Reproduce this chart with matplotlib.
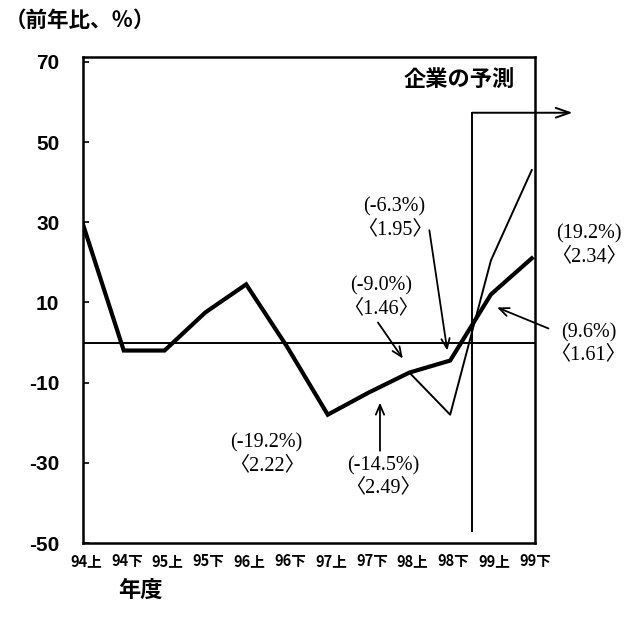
import matplotlib
matplotlib.use("Agg")
import matplotlib.pyplot as plt
import numpy as np

plt.rcParams['font.family'] = ['Noto Sans CJK JP', 'DejaVu Sans']

periods = ["94上", "94下", "95上", "95下", "96上", "96下",
           "97上", "97下", "98上", "98下", "99上", "99下"]
actual = [29.5, -2.0, -2.0, 7.5, 14.5, -1.0, -18.0, -12.5, -7.5, -4.5, 12.0, 21.0]
# thin line: branch starting at 98上
branch_idx = [8, 9, 10, 11]
branch = [-7.5, -18.0, 20.5, 43.0]
yticks = [-50, -30, -10, 10, 30, 50, 70]

notes = [
    ("(-19.2%)\n〈2.22〉", (4.50, -27.8), None),
    ("(-14.5%)\n〈2.49〉", (7.35, -33.5), ((7.28, -27.0), (7.28, -15.0))),
    ("(-9.0%)\n〈1.46〉", (7.30, 11.3), ((7.23, 5.0), (7.84, -4.0))),
    ("(-6.3%)\n〈1.95〉", (7.64, 31.0), ((8.49, 28.0), (8.93, -2.0))),
    ("(19.2%)\n〈2.34〉", (12.39, 24.3), None),
    ("(9.6%)\n〈1.61〉", (12.39, -0.3), ((11.41, 3.5), (10.15, 8.75))),
]

fig = plt.figure(figsize=(6.38, 6.21), dpi=100)
ax = fig.add_axes([0.130, 0.1256, 0.7086, 0.7826])

x = np.arange(len(periods))
ax.plot(x, actual, color='black', lw=3.0, solid_joinstyle='miter', zorder=3)
ax.plot(branch_idx, branch, color='black', lw=1.4, zorder=2)
ax.axhline(0, color='black', lw=1.4, zorder=1)

ax.set_xlim(0, 11)
ax.set_ylim(-50, 71.2)
ax.set_yticks(yticks)
ax.set_yticklabels([str(v) for v in yticks], fontsize=15, fontweight='bold',
                   family=['Liberation Sans', 'DejaVu Sans'])
ax.tick_params(axis='y', direction='in', length=4, width=1.2, pad=17)
ax.set_xticks(x + 0.08)
ax.set_xticklabels(periods, fontsize=10.5, fontweight='bold')
ax.tick_params(axis='x', length=0, pad=7)
for s in ax.spines.values():
    s.set_linewidth(1.8)

# forecast box
ax.plot([9.54, 9.54], [-47, 57.3], color='black', lw=1.4, clip_on=False, zorder=2)
ax.annotate("", xy=(12.0, 57.3), xytext=(9.54, 57.3),
            arrowprops=dict(arrowstyle='->,head_length=1.0,head_width=0.35',
                            color='black', lw=1.4, shrinkA=0, shrinkB=0),
            annotation_clip=False)
ax.text(9.22, 65.5, "企業の予測", fontsize=16, fontweight='bold',
        ha='center', va='center')

serif = ['Liberation Serif', 'Noto Sans CJK JP']
for txt, pos, arr in notes:
    ax.text(pos[0], pos[1], txt, ha='center', va='center', fontsize=14.5,
            family=serif, linespacing=1.25, clip_on=False)
    if arr is not None:
        ax.annotate("", xy=arr[1], xytext=arr[0],
                    arrowprops=dict(arrowstyle='->,head_length=0.7,head_width=0.3',
                                    color='black', lw=1.3, shrinkA=0, shrinkB=0),
                    annotation_clip=False)

fig.text(0.008, 0.968, "（前年比、％）", fontsize=15.5, fontweight='bold',
         ha='left', va='center')
fig.text(0.185, 0.05, "年度", fontsize=16, fontweight='bold',
         ha='left', va='center')

fig.savefig("out.png", dpi=100)
